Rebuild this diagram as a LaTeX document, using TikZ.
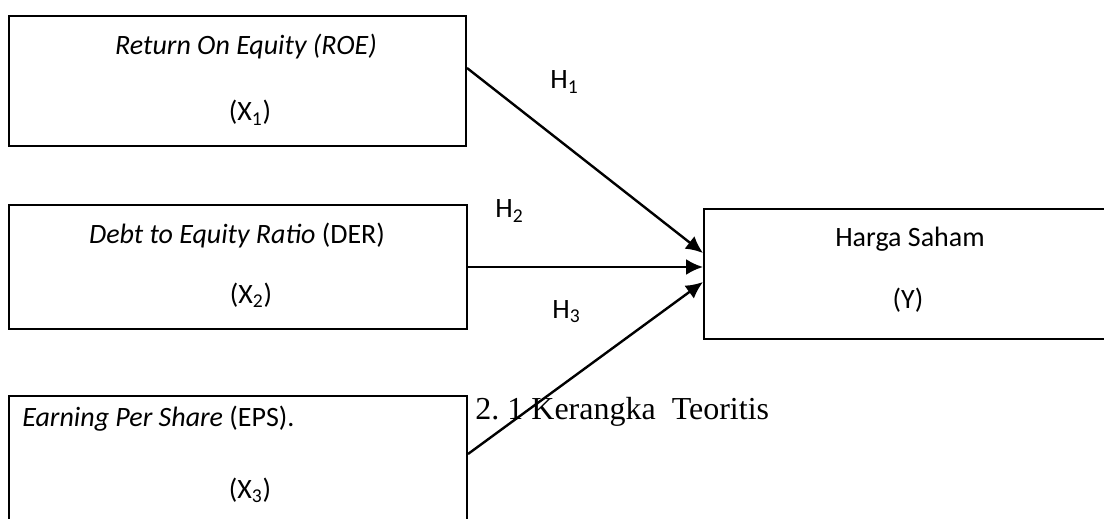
\documentclass[tikz,border=0pt]{standalone}
\usepackage{fontspec}
\setmainfont{Carlito}
\newfontfamily\capfont{Liberation Serif}
\usetikzlibrary{arrows.meta}
\tikzset{
  box/.style={draw,line width=1pt,fill=white,anchor=north west,inner sep=0pt},
  txt/.style={anchor=base,inner sep=0pt,font=\fontsize{14}{17}\selectfont},
  arr/.style={-{Latex[length=8.5pt,width=8pt]},line width=1.2pt}
}

\begin{document}
\begin{tikzpicture}[x=0.5pt,y=-0.5pt]
                \useasboundingbox (0,0) rectangle (1104,519);
                \clip (0,0) rectangle (1104,519);

                \node[anchor=base west,inner sep=0pt,font=\capfont\fontsize{16}{19}\selectfont\frenchspacing] (cap) at (475,419) {2. 1 Kerangka\ \ Teoritis};

                \node[box,minimum width=228.5pt,minimum height=65pt] (boxa) at (8,15) {};
                \node[txt] (roe) at (246,55) {\itshape Return On Equity (ROE)};
                \node[txt] (xa) at (250,121) {(X\textsubscript{1})};

                \node[box,minimum width=229pt,minimum height=62pt] (boxb) at (8,204) {};
                \node[txt] (der) at (237,243) {\textit{Debt to Equity Ratio} (DER)};
                \node[txt] (xb) at (251,303) {(X\textsubscript{2})};

                \node[box,minimum width=229pt,minimum height=80pt] (boxc) at (8,395) {};
                \node[txt,anchor=base west] (eps) at (22,426) {\textit{Earning Per Share} (EPS).};
                \node[txt] (xc) at (250,498) {(X\textsubscript{3})};

                \node[box,minimum width=230pt,minimum height=65pt] (boxy) at (703,208) {};
                \node[txt] (harga) at (910,247) {Harga Saham};
                \node[txt] (yv) at (908,308) {(Y)};

                \draw[arr] ([yshift=6.5pt]boxa.east) -- ([yshift=10.5pt]boxy.west);
                \draw[arr] (boxb.east) -- ([yshift=3.5pt]boxy.west);
                \draw[arr] ([yshift=-29.5pt]boxc.north east) -- ([yshift=-4pt]boxy.west);

                \node[txt,anchor=base west] (ha) at (550,89) {H\textsubscript{1}};
                \node[txt,anchor=base west] (hb) at (495,218) {H\textsubscript{2}};
                \node[txt,anchor=base west] (hc) at (552,318) {H\textsubscript{3}};
\end{tikzpicture}
\end{document}
